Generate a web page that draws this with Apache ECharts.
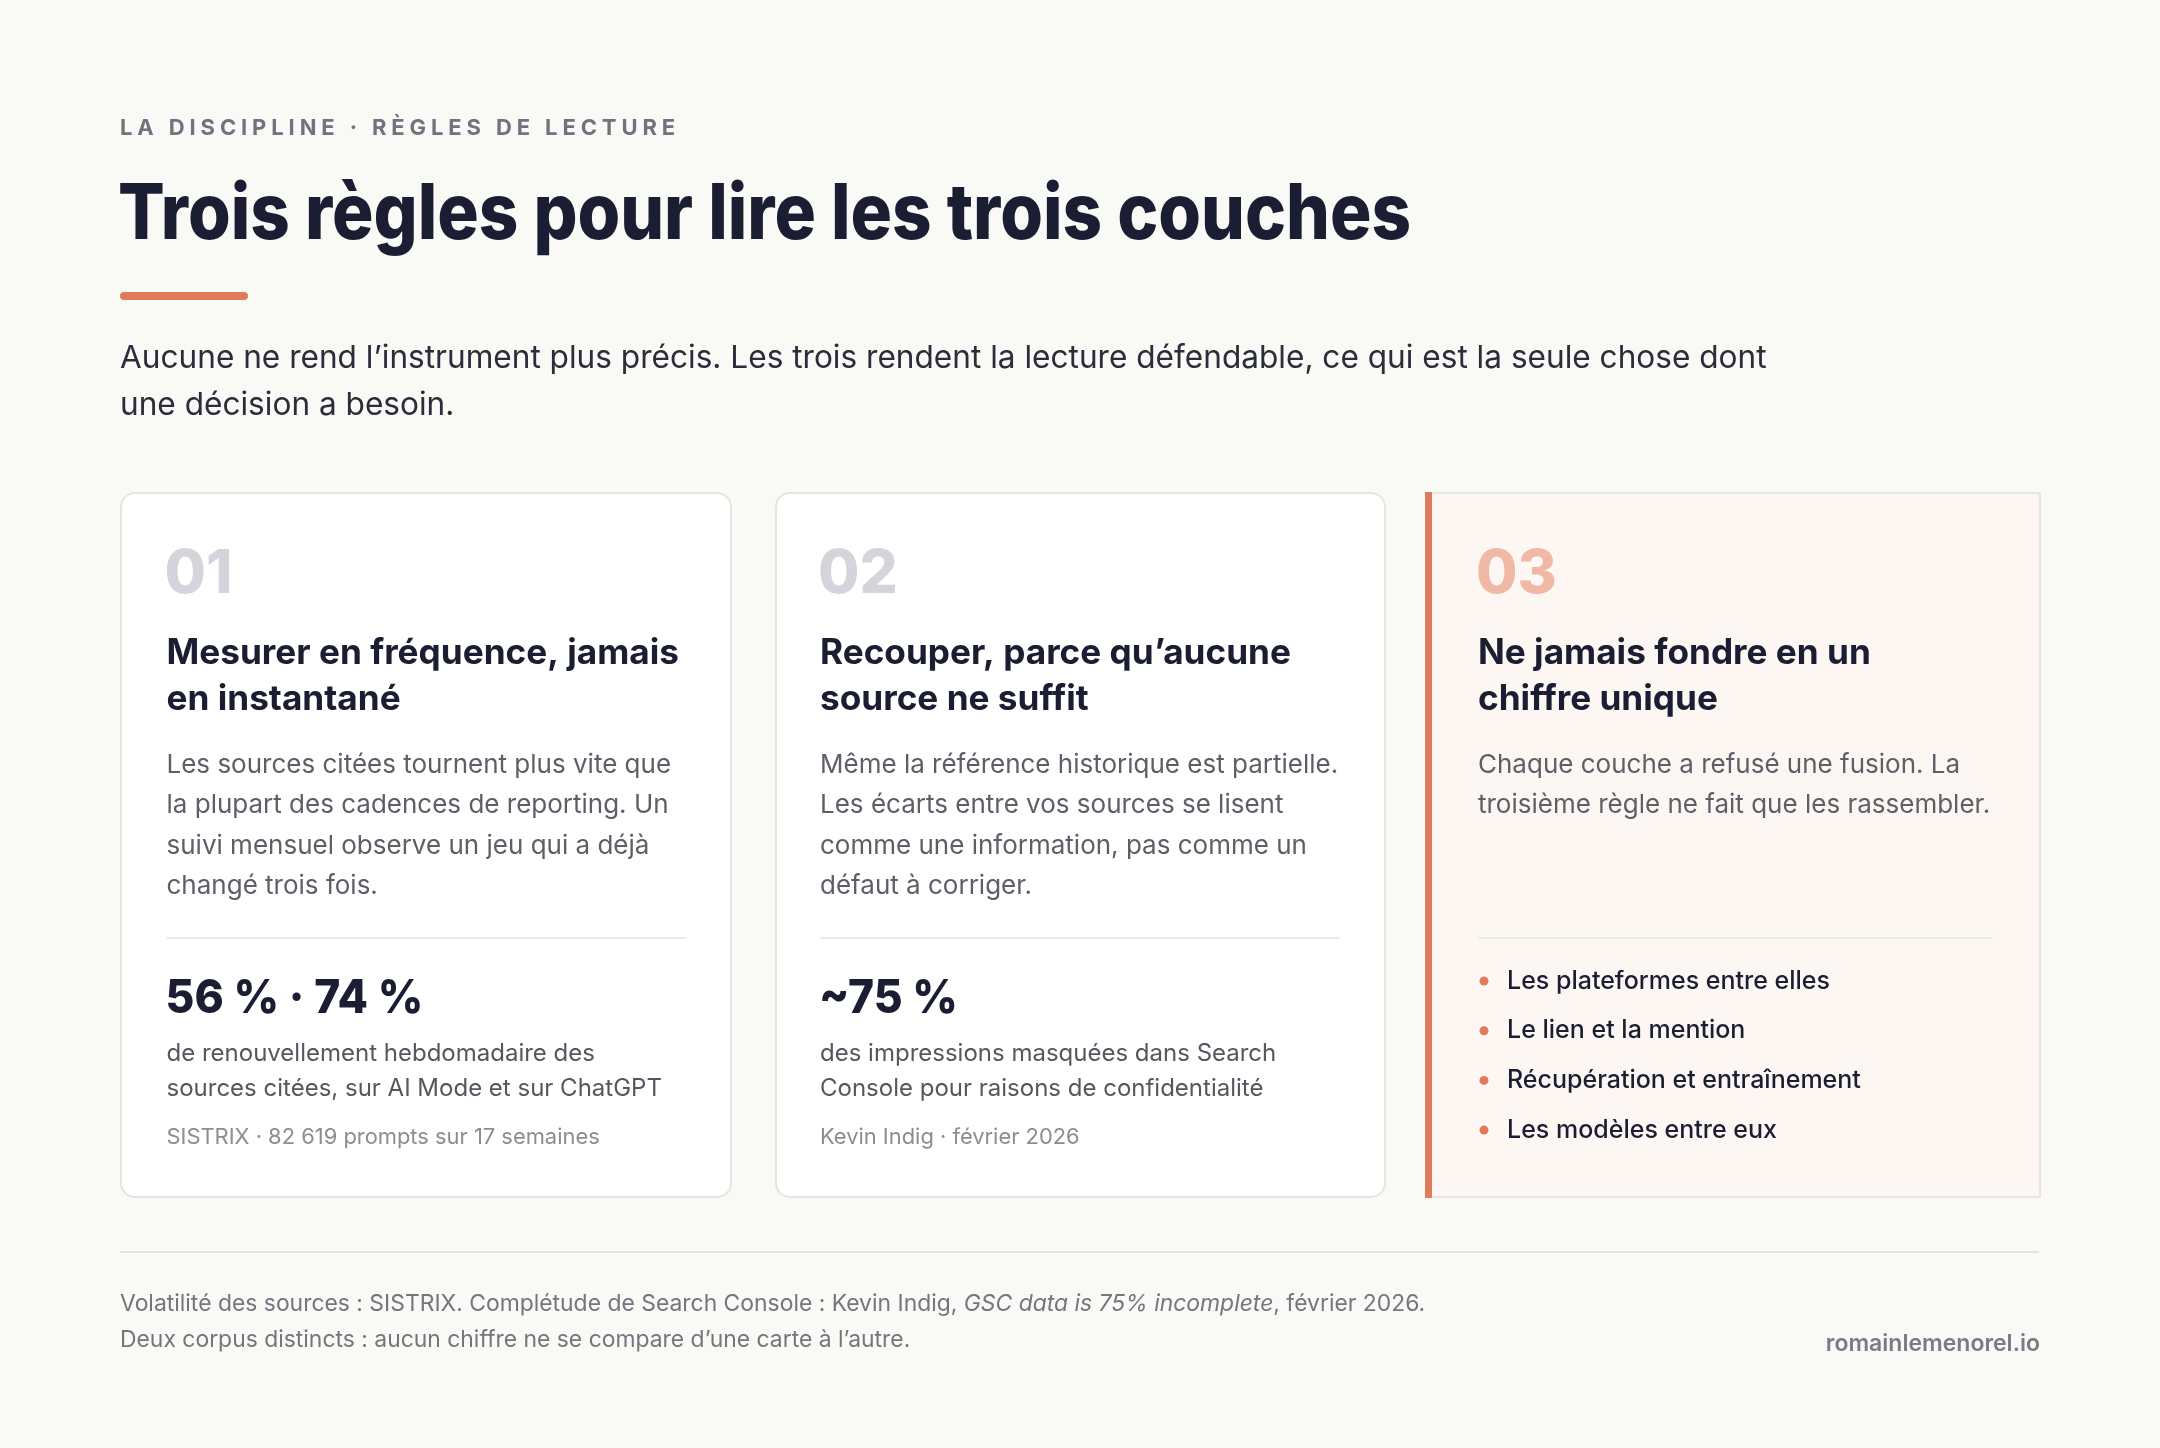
<!DOCTYPE html>
<html><head><meta charset="utf-8">
<script src="https://cdn.jsdelivr.net/npm/echarts@6/dist/echarts.min.js"></script>
<style>html,body{margin:0;padding:0;background:#f9f9f6;}#c{width:2160px;height:1448px;}</style>
</head><body><div id="c"></div>
<script>
// ---- content ----
const eyebrow = 'LA DISCIPLINE · RÈGLES DE LECTURE';
const title = 'Trois règles pour lire les trois couches';
const subtitleLines = [
  'Aucune ne rend l’instrument plus précis. Les trois rendent la lecture défendable, ce qui est la seule chose dont',
  'une décision a besoin.'
];
const cardNumbers = ['01', '02', '03'];
const cardHeadings = [
  ['Mesurer en fréquence, jamais', 'en instantané'],
  ['Recouper, parce qu’aucune', 'source ne suffit'],
  ['Ne jamais fondre en un', 'chiffre unique']
];
const cardBodies = [
  ['Les sources citées tournent plus vite que', 'la plupart des cadences de reporting. Un', 'suivi mensuel observe un jeu qui a déjà', 'changé trois fois.'],
  ['Même la référence historique est partielle.', 'Les écarts entre vos sources se lisent', 'comme une information, pas comme un', 'défaut à corriger.'],
  ['Chaque couche a refusé une fusion. La', 'troisième règle ne fait que les rassembler.']
];
const cardStats = ['56 % · 74 %', '~75 %'];
const cardStatDescs = [
  ['de renouvellement hebdomadaire des', 'sources citées, sur AI Mode et sur ChatGPT'],
  ['des impressions masquées dans Search', 'Console pour raisons de confidentialité']
];
const cardSources = ['SISTRIX · 82 619 prompts sur 17 semaines', 'Kevin Indig · février 2026'];
const rule3Bullets = ['Les plateformes entre elles', 'Le lien et la mention', 'Récupération et entraînement', 'Les modèles entre eux'];
const footLine1 = ['Volatilité des sources : SISTRIX. Complétude de Search Console : Kevin Indig, ', 'GSC data is 75% incomplete', ', février 2026.'];
const footLine2 = 'Deux corpus distincts : aucun chiffre ne se compare d’une carte à l’autre.';
const siteLabel = 'romainlemenorel.io';

// ---- helpers ----
const FONT = 'Inter, "Noto Sans", sans-serif';
const mctx = document.createElement('canvas').getContext('2d');
function widthOf(text, font) { mctx.font = font; return mctx.measureText(text).width; }

// letter spacing for the eyebrow only (canvas letterSpacing, forced by re-setting the font)
const eyeFont = '700 22px ' + FONT;
const eyeTarget = 560;
let eyeLS = 0;
const supportsLS = 'letterSpacing' in CanvasRenderingContext2D.prototype;
if (supportsLS) eyeLS = (eyeTarget - widthOf(eyebrow, eyeFont)) / eyebrow.length;
const origFill = CanvasRenderingContext2D.prototype.fillText;
function refont(ctx) { const f = ctx.font; ctx.font = '10px serif'; ctx.font = f; }
CanvasRenderingContext2D.prototype.fillText = function (t) {
  if (supportsLS && t === eyebrow) {
    this.letterSpacing = eyeLS.toFixed(2) + 'px'; refont(this);
    const r = origFill.apply(this, arguments);
    this.letterSpacing = '0px'; refont(this);
    return r;
  }
  return origFill.apply(this, arguments);
};

const C = {
  navy: '#1b1e33', orange: '#e07b5a', body: '#5d5f67',
  desc: '#55575f', src: '#8b8d94', num: '#d4d5db', numHi: '#f0b9a5',
  border: '#e7e5e0', rule: '#ecebe6', card3: '#fdf7f4'
};

function txt(x, y, text, size, weight, color, extra, elExtra) {
  return Object.assign({
    type: 'text', x: x, y: y, silent: true,
    style: Object.assign({
      text: text, fill: color, font: weight + ' ' + size + 'px ' + FONT,
      align: 'left', verticalAlign: 'middle'
    }, extra || {})
  }, elExtra || {});
}

const els = [];
// header
els.push(txt(120, 128, eyebrow, 22, 700, '#70737e', null, supportsLS ? null : { scaleX: eyeTarget / widthOf(eyebrow, eyeFont) }));
const titleFont = '800 77px ' + FONT;
els.push(txt(118, 216, title, 77, 800, C.navy, null, { scaleX: 1293 / widthOf(title, titleFont) }));
els.push({ type: 'rect', shape: { x: 120, y: 292, width: 128, height: 8, r: 4 }, style: { fill: C.orange }, silent: true });
subtitleLines.forEach((l, i) => els.push(txt(120, 358 + i * 47, l, 31.6, 400, '#2b2e3a')));

// cards
const cardX = [121, 776, 1426];
const cardWs = [610, 609, 614];
const cardY = 493, cardH = 704;
const padX = [45.5, 44, 52];
const statScale = 258 / widthOf(cardStats[0], '800 47px ' + FONT);
for (let k = 0; k < 3; k++) {
  const x0 = cardX[k];
  const isHi = k === 2;
  if (isHi) {
    els.push({ type: 'rect', shape: { x: x0, y: cardY, width: cardWs[k], height: cardH }, style: { fill: C.card3, stroke: C.border, lineWidth: 2 }, silent: true });
    els.push({ type: 'rect', shape: { x: x0 - 1, y: cardY - 1, width: 7, height: cardH + 2 }, style: { fill: C.orange }, silent: true });
  } else {
    els.push({ type: 'rect', shape: { x: x0, y: cardY, width: cardWs[k], height: cardH, r: 14 }, style: { fill: '#ffffff', stroke: C.border, lineWidth: 2 }, silent: true });
  }
  const tx = x0 + padX[k];
  els.push(txt(tx - 2, 575, cardNumbers[k], 60, 800, isHi ? C.numHi : C.num));
  cardHeadings[k].forEach((l, i) => els.push(txt(tx, 653 + i * 46, l, 35.2, 700, C.navy)));
  cardBodies[k].forEach((l, i) => els.push(txt(tx, 765 + i * 40.5, l, 26, 400, C.body)));
  const ruleW = isHi ? 515 : 520;
  els.push({ type: 'rect', shape: { x: tx, y: 937, width: ruleW, height: 2 }, style: { fill: C.rule }, silent: true });
  if (!isHi) {
    els.push(txt(tx - 1, 999, cardStats[k], 47, 800, C.navy, null, { scaleX: statScale }));
    cardStatDescs[k].forEach((l, i) => els.push(txt(tx, 1054 + i * 34.5, l, 24, 400, C.desc)));
    els.push(txt(tx, 1137, cardSources[k], 21.9, 400, C.src));
  } else {
    rule3Bullets.forEach((l, i) => {
      const yy = 981 + i * 49.7;
      els.push({ type: 'circle', shape: { cx: tx + 6, cy: yy, r: 4.5 }, style: { fill: C.orange }, silent: true });
      els.push(txt(tx + 29, yy, l, 25, 500, C.navy));
    });
  }
}

// footer
const FS = 22.9;
els.push({ type: 'rect', shape: { x: 120, y: 1251, width: 1919, height: 2 }, style: { fill: '#e4e3de' }, silent: true });
els.push({
  type: 'text', x: 120, y: 1304, silent: true,
  style: {
    text: '{r|' + footLine1[0] + '}{i|' + footLine1[1] + '}{r|' + footLine1[2] + '}',
    verticalAlign: 'middle', align: 'left', fill: '#74767e', font: '400 ' + FS + 'px ' + FONT,
    rich: {
      r: { fill: '#74767e', font: '400 ' + FS + 'px ' + FONT },
      i: { fill: '#74767e', font: 'italic 400 ' + FS + 'px ' + FONT }
    }
  }
});
els.push(txt(120, 1340, footLine2, FS, 400, '#74767e'));
els.push(txt(2040, 1344, siteLabel, 23, 600, '#7a7c85', { align: 'right' }));

const chart = echarts.init(document.getElementById('c'), null, { renderer: 'canvas', width: 2160, height: 1448 });
chart.setOption({
  backgroundColor: '#f9f9f6',
  animation: false,
  graphic: { elements: els }
});
</script></body></html>
